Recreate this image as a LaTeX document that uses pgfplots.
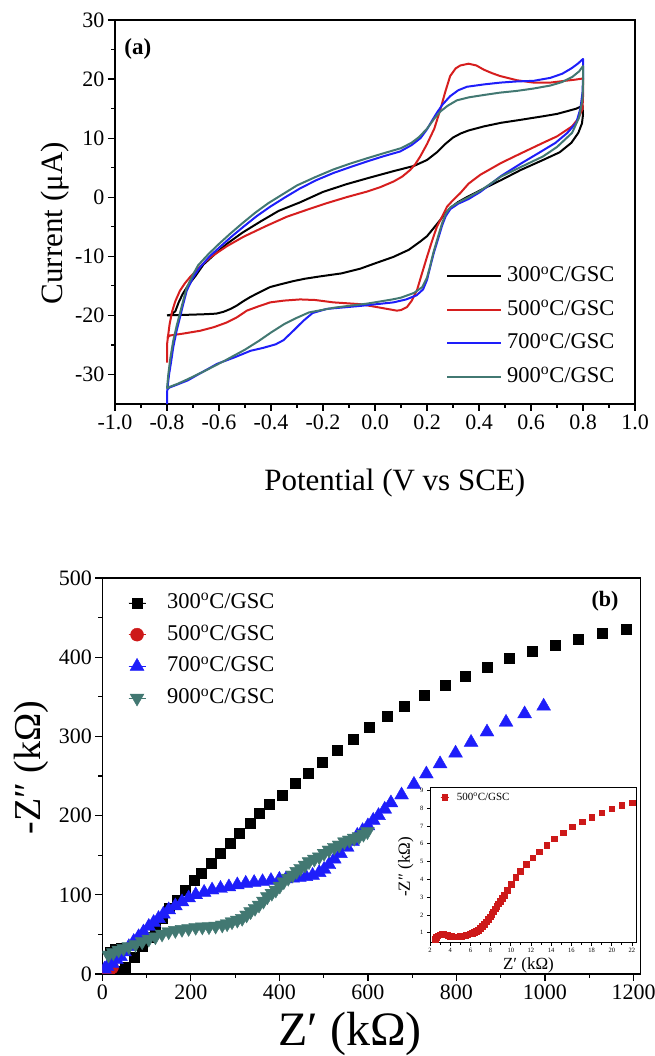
\documentclass[border=0pt]{standalone}
\usepackage{fontspec}
\setmainfont{Liberation Serif}
\usepackage{pgfplots}
\pgfplotsset{compat=1.18}
\definecolor{cvred}{RGB}{214,30,30}
\definecolor{cvblue}{RGB}{30,30,250}
\definecolor{cvteal}{RGB}{66,120,114}
\definecolor{eisred}{RGB}{205,25,25}
\newcommand{\lab}[1]{#1\textsuperscript{o}C/GSC}
\begin{document}
\begin{tikzpicture}[x=1pt,y=1pt]
\useasboundingbox (0pt,0pt) rectangle (654pt,1056pt);
% ---------------- (a) CV ----------------
\begin{axis}[
  at={(115pt,652pt)}, anchor=south west, scale only axis,
  width=520pt, height=384pt,
  xmin=-1, xmax=1, ymin=-35, ymax=30,
  xtick={-1,-0.8,-0.6,-0.4,-0.2,0,0.2,0.4,0.6,0.8,1},
  ytick={-30,-20,-10,0,10,20,30},
  minor x tick num=1, minor y tick num=1,
  tick pos=left, tick align=outside,
  major tick length=7pt, minor tick length=4pt,
  every tick/.style={black, line width=1.2pt},
  axis line style={line width=1.3pt},
  tick label style={font=\fontsize{22}{24}\selectfont},
  /pgf/number format/assume math mode=true,
  x tick label style={/pgf/number format/fixed, /pgf/number format/fixed zerofill, /pgf/number format/precision=1},
  xlabel={Potential (V vs SCE)},
  xlabel style={at={(axis description cs:0.538,-0.206)}, anchor=center, font=\fontsize{31}{33}\selectfont},
  ylabel={Current (μA)},
  ylabel style={at={(axis description cs:-0.116,0.471)}, anchor=center, font=\fontsize{31}{33}\selectfont},
  every axis plot/.append style={line width=2pt, line join=round, no marks},
  legend style={at={(axis description cs:0.6365,0.360)}, anchor=north west, draw=none, fill=none, inner sep=0pt,
     column sep=5pt, row sep=12.5pt, font=\fontsize{22.5}{24}\selectfont,
     nodes={inner sep=0pt, text height=16pt, text depth=5pt}},
  legend cell align=left,
  legend image code/.code={\draw[#1] (0pt,0pt) -- (54pt,0pt);},
]
\addplot[black] coordinates {
(-0.8,-20.0) (-0.785,-19.9) (-0.768,-19.3) (-0.755,-17.8) (-0.74,-16.4) (-0.72,-15.0) (-0.69,-13.3) (-0.66,-11.4) (-0.62,-9.8) (-0.57,-7.9) (-0.51,-6.0) (-0.44,-4.1) (-0.37,-2.3) (-0.29,-0.9) (-0.2,0.9) (-0.11,2.2) (-0.03,3.2) (0.07,4.4) (0.15,5.3) (0.2,6.3) (0.238,7.6) (0.27,9.0) (0.3,10.1) (0.33,10.8) (0.36,11.3) (0.42,12.0) (0.485,12.6) (0.56,13.1) (0.646,13.7) (0.7,14.1) (0.742,14.6) (0.775,15.0) (0.798,15.5)
(0.8,14.0) (0.796,12.5) (0.782,10.9) (0.755,9.2) (0.71,7.6) (0.646,6.3) (0.56,4.6) (0.485,2.9) (0.42,1.5) (0.357,0.1) (0.32,-0.8) (0.29,-1.8) (0.265,-3.0) (0.25,-3.9) (0.228,-5.1) (0.2,-6.6) (0.174,-7.5) (0.13,-8.9) (0.071,-10.1) (0.0,-11.2) (-0.057,-12.1) (-0.13,-12.9) (-0.211,-13.4) (-0.27,-13.8) (-0.314,-14.2) (-0.36,-14.7) (-0.403,-15.2) (-0.44,-16.0) (-0.48,-16.9) (-0.51,-17.7) (-0.53,-18.3) (-0.555,-18.9) (-0.583,-19.4) (-0.61,-19.7) (-0.65,-19.8) (-0.72,-19.9) (-0.8,-20.0)
};
\addlegendentry{\lab{300}}
\addplot[cvred] coordinates {
(-0.8,-28.0) (-0.8,-25.0) (-0.796,-23.5) (-0.79,-21.5) (-0.78,-19.3) (-0.768,-17.6) (-0.75,-15.8) (-0.73,-14.5) (-0.711,-13.5) (-0.672,-11.7) (-0.634,-10.2) (-0.57,-8.3) (-0.506,-6.7) (-0.42,-4.9) (-0.339,-3.3) (-0.26,-2.1) (-0.185,-1.0) (-0.11,0.0) (-0.031,0.95) (0.02,1.7) (0.071,2.65) (0.105,3.5) (0.135,4.6) (0.155,5.6) (0.174,6.9) (0.2,9.0) (0.228,11.6) (0.251,14.8) (0.27,17.8) (0.289,20.5) (0.31,21.8) (0.328,22.3) (0.36,22.6) (0.39,22.3) (0.418,21.6) (0.45,21.0) (0.482,20.5) (0.546,19.8) (0.61,19.4) (0.674,19.4) (0.73,19.7) (0.77,19.9) (0.8,20.1)
(0.8,17.0) (0.798,14.9) (0.78,13.2) (0.758,12.0) (0.7,10.3) (0.646,9.2) (0.56,7.4) (0.485,5.8) (0.405,3.8) (0.36,2.3) (0.328,0.7) (0.3,-0.5) (0.277,-1.6) (0.258,-3.3) (0.238,-5.0) (0.218,-7.6) (0.2,-10.1) (0.18,-13.0) (0.161,-15.8) (0.14,-17.6) (0.123,-18.6) (0.1,-19.1) (0.084,-19.2) (0.046,-18.9) (-0.057,-18.1) (-0.16,-17.8) (-0.23,-17.4) (-0.288,-17.3) (-0.35,-17.5) (-0.403,-17.8) (-0.45,-18.5) (-0.493,-19.2) (-0.53,-20.3) (-0.57,-21.2) (-0.62,-22.0) (-0.672,-22.6) (-0.74,-23.1) (-0.788,-23.4) (-0.8,-23.8)
};
\addlegendentry{\lab{500}}
\addplot[cvblue] coordinates {
(-0.8,-35.5) (-0.799,-32.6) (-0.792,-30.0) (-0.784,-27.8) (-0.776,-25.4) (-0.763,-22.6) (-0.75,-20.3) (-0.737,-18.0) (-0.724,-15.8) (-0.7,-13.6) (-0.672,-11.8) (-0.636,-10.0) (-0.596,-8.4) (-0.55,-6.6) (-0.506,-5.0) (-0.455,-3.2) (-0.403,-1.6) (-0.345,0.0) (-0.288,1.5) (-0.225,2.9) (-0.16,4.1) (-0.095,5.1) (-0.031,6.05) (0.03,6.9) (0.097,7.75) (0.14,8.8) (0.175,10.0) (0.2,11.5) (0.22,13.0) (0.238,14.3) (0.26,15.7) (0.289,17.1) (0.32,18.1) (0.354,18.7) (0.42,19.1) (0.482,19.4) (0.546,19.6) (0.61,19.7) (0.674,20.2) (0.72,20.9) (0.755,21.8) (0.78,22.6) (0.8,23.4)
(0.8,20.0) (0.798,17.7) (0.79,15.0) (0.774,12.6) (0.74,10.9) (0.694,9.2) (0.63,7.5) (0.565,5.8) (0.485,3.6) (0.405,0.9) (0.36,-0.3) (0.32,-1.1) (0.29,-2.0) (0.272,-3.2) (0.258,-4.8) (0.243,-7.0) (0.225,-9.6) (0.21,-12.2) (0.2,-14.0) (0.185,-15.6) (0.16,-16.6) (0.12,-17.3) (0.071,-17.8) (-0.057,-18.4) (-0.185,-18.9) (-0.24,-19.6) (-0.275,-20.9) (-0.314,-22.6) (-0.352,-24.2) (-0.382,-24.9) (-0.43,-25.5) (-0.479,-26.0) (-0.54,-27.1) (-0.607,-28.2) (-0.66,-29.5) (-0.72,-31.0) (-0.76,-31.7) (-0.79,-32.2) (-0.8,-32.6)
};
\addlegendentry{\lab{700}}
\addplot[cvteal] coordinates {
(-0.8,-32.4) (-0.795,-30.0) (-0.787,-27.2) (-0.776,-24.3) (-0.763,-21.8) (-0.75,-19.6) (-0.737,-17.4) (-0.724,-15.3) (-0.7,-13.1) (-0.68,-11.5) (-0.64,-9.6) (-0.6,-7.9) (-0.555,-6.1) (-0.51,-4.4) (-0.46,-2.6) (-0.41,-1.0) (-0.355,0.5) (-0.3,2.0) (-0.23,3.4) (-0.16,4.7) (-0.095,5.7) (-0.03,6.6) (0.03,7.4) (0.1,8.3) (0.14,9.2) (0.17,10.2) (0.2,11.6) (0.228,13.3) (0.251,14.5) (0.28,15.5) (0.315,16.4) (0.36,16.9) (0.418,17.3) (0.48,17.7) (0.546,18.0) (0.61,18.4) (0.674,18.9) (0.72,19.5) (0.76,20.4) (0.785,21.3) (0.8,22.2)
(0.8,19.0) (0.798,16.6) (0.785,13.5) (0.758,10.9) (0.7,8.5) (0.646,6.9) (0.565,5.2) (0.485,3.5) (0.405,1.1) (0.36,0.0) (0.32,-0.9) (0.29,-1.7) (0.272,-2.8) (0.258,-4.4) (0.243,-6.6) (0.225,-9.3) (0.21,-12.0) (0.2,-13.6) (0.182,-15.2) (0.15,-16.2) (0.1,-17.0) (0.067,-17.3) (-0.029,-18.0) (-0.157,-18.7) (-0.254,-19.5) (-0.3,-20.4) (-0.35,-21.5) (-0.4,-22.9) (-0.446,-24.3) (-0.5,-25.8) (-0.575,-27.6) (-0.65,-29.3) (-0.72,-30.8) (-0.76,-31.6) (-0.79,-32.1) (-0.8,-32.4)
};
\addlegendentry{\lab{900}}
\node[font=\fontsize{23}{25}\selectfont\bfseries, anchor=center] at (axis description cs:0.044,0.924) {(a)};
\end{axis}
% ---------------- (b) EIS ----------------
\begin{axis}[
  at={(102.3pt,82pt)}, anchor=south west, scale only axis,
  width=538.3pt, height=396pt,
  xmin=0, xmax=1216, ymin=0, ymax=500,
  xtick={0,200,400,600,800,1000,1200},
  ytick={0,100,200,300,400,500},
  minor x tick num=1, minor y tick num=1,
  tick pos=left, tick align=outside,
  major tick length=7pt, minor tick length=4pt,
  every tick/.style={black, line width=1.2pt},
  axis line style={line width=1.3pt},
  tick label style={font=\fontsize{22}{24}\selectfont},
  /pgf/number format/assume math mode=true,
  /pgf/number format/1000 sep={},
  xlabel={Z′ (kΩ)},
  xlabel style={at={(axis description cs:0.46,-0.152)}, anchor=center, font=\fontsize{48}{50}\selectfont},
  ylabel={-Z″ (kΩ)},
  ylabel style={at={(axis description cs:-0.132,0.521)}, anchor=center, font=\fontsize{38}{40}\selectfont},
  clip marker paths=true,
  legend style={at={(axis description cs:0.048,0.964)}, anchor=north west, draw=none, fill=none, inner sep=0pt,
     column sep=21.5pt, row sep=10.7pt, font=\fontsize{22.5}{24}\selectfont,
     nodes={inner sep=0pt, text height=16pt, text depth=5pt}},
  legend cell align=left,
  legend image code/.code={\path (0pt,0pt) -- (17pt,0pt); \draw[#1] plot coordinates {(8.5pt,0pt)};},
]
\addplot[only marks, mark=square*, mark size=5pt, draw=black, fill=black] coordinates {
(18,28) (30,31) (42,32)
(37,3) (52,9.2) (71,21.8) (90,34.5) (105,47) (120,59.7) (135,70.3) (152,83) (169,93.4) (188,106) (207,118.7) (224,127) (245,139.8) (267,152.4) (290,165) (310,177.6) (333,190) (354,203) (378,215) (406,226) (435,240.7) (465,253.8) (496,267.4) (531,282.2) (567,297) (603,311.4) (643,325.4) (682,338.6) (727,352.1) (774,364.8) (820,376.3) (869,387.7) (919,398.3) (970,408) (1022,415.7) (1076,422.9) (1130,430.1) (1183,435.6)
};
\addlegendentry{\lab{300}}
\addplot[only marks, mark=*, mark size=6.5pt, draw=eisred, fill=eisred] coordinates {
(2.5,0.65) (2.75,0.84) (3.15,0.91) (3.55,0.89) (3.95,0.82) (4.35,0.78) (4.75,0.78) (5.15,0.81) (5.55,0.87) (5.95,0.94) (6.35,1.02) (6.75,1.15) (7.15,1.35) (7.55,1.62) (7.95,1.9) (8.28,2.18) (8.6,2.5) (8.94,2.78) (9.34,3.12) (9.64,3.4) (10.07,3.74) (10.5,4.11) (10.96,4.47) (11.52,4.84) (12.15,5.21) (12.84,5.55) (13.54,5.91) (14.3,6.28) (15.19,6.62) (16.06,6.96) (17.05,7.24) (18.0,7.5) (19.0,7.75) (20.0,7.97) (21.0,8.15) (22.0,8.3)
};
\addlegendentry{\lab{500}}
\addplot[only marks, mark=triangle*, mark size=8pt, draw=cvblue, fill=cvblue] coordinates {
(5,6) (11,9.2) (22,13.5) (32,18) (41,22) (50,28) (60,34.5) (71,41) (82,47) (93,53) (105,60) (116,65) (127,70) (138,75.5) (150,81) (165,86) (180,91) (195,96) (211,100) (230,103) (248,106) (267,108) (286,110) (305,112.5) (324,114.5) (343,115.5) (362,116.5) (381,118) (400,119.5) (415,120) (430,121) (445,122) (460,123) (475,124.5) (490,128) (501,132) (512,138) (524,145) (538,152) (553,160) (565,167) (576,175) (588,181) (600,187) (612,194) (624,200) (638,208) (652,216) (676,226) (704,239.4) (732,252.5) (763,265.3) (798,278.8) (833,292.4) (869,305.5) (912,317.8) (954,328.4) (997,338.1)
};
\addlegendentry{\lab{700}}
\addplot[only marks, mark=triangle*, mark size=8pt, mark options={rotate=180}, draw=cvteal, fill=cvteal] coordinates {
(14,24) (25,27) (37,30.3) (48,32.5) (60,34.5) (75,37.5) (90,40.8) (105,44) (120,47) (135,50.5) (150,53.4) (165,55) (180,56.4) (195,57.5) (211,59) (226,59.5) (241,59.7) (256,60.5) (271,61.9) (282,63.5) (293,66) (305,68) (316,70.3) (326,74.5) (335,78.7) (345,83) (354,87.1) (364,92) (373,97.6) (383,102) (392,106) (401,111) (410,116.5) (420,121) (430,125) (439,129.5) (448,133.5) (458,137.5) (467,141.8) (479,145) (490,148) (501,152.5) (512,156.6) (524,160) (535,162.9) (547,167) (558,169.2) (569,171.5) (580,173.4) (590,176.5) (599,179.7)
};
\addlegendentry{\lab{900}}
\node[font=\fontsize{22}{24}\selectfont\bfseries, anchor=center] at (axis description cs:0.934,0.942) {(b)};
\end{axis}
% ---------------- inset ----------------
\begin{axis}[
  at={(430pt,113.3pt)}, anchor=south west, scale only axis,
  width=206pt, height=154.7pt,
  xmin=2, xmax=22.4, ymin=0.44, ymax=9.13,
  xtick={2,4,6,8,10,12,14,16,18,20,22},
  ytick={1,2,3,4,5,6,7,8,9},
  minor x tick num=1,
  tick pos=left, tick align=outside,
  major tick length=3pt, minor tick length=2pt,
  every tick/.style={black, line width=0.8pt},
  axis line style={line width=1pt},
  axis background/.style={fill=white},
  tick label style={font=\fontsize{6.5}{7}\selectfont},
  xticklabel style={yshift=1pt},
  /pgf/number format/assume math mode=true,
  xlabel={Z′ (kΩ)},
  xlabel style={at={(axis description cs:0.478,-0.147)}, anchor=center, font=\fontsize{17}{18}\selectfont},
  ylabel={-Z″ (kΩ)},
  ylabel style={at={(axis description cs:-0.117,0.49)}, anchor=center, font=\fontsize{17}{18}\selectfont},
  legend style={at={(axis description cs:0.05,0.97)}, anchor=north west, draw=none, fill=none, inner sep=0pt,
     column sep=8pt, font=\fontsize{11}{12}\selectfont, nodes={inner sep=0pt}},
  legend cell align=left,
  legend image code/.code={\path (0pt,0pt) -- (8pt,0pt); \draw[#1] plot coordinates {(4pt,0pt)};},
]
\addplot[only marks, mark=square*, mark size=2.8pt, draw=eisred, fill=eisred] coordinates {
(2.5,0.65) (2.6,0.75) (2.75,0.84) (2.95,0.89) (3.15,0.91) (3.35,0.91) (3.55,0.89) (3.75,0.85) (3.95,0.82) (4.15,0.79) (4.35,0.78) (4.55,0.77) (4.75,0.78) (4.95,0.79) (5.15,0.81) (5.35,0.84) (5.55,0.87) (5.75,0.9) (5.95,0.94) (6.15,0.98) (6.35,1.02) (6.55,1.08) (6.75,1.15) (6.95,1.24) (7.15,1.35) (7.35,1.48) (7.55,1.62) (7.75,1.76) (7.95,1.9) (8.12,2.04) (8.28,2.18) (8.44,2.34) (8.6,2.5) (8.77,2.64) (8.94,2.78) (9.14,2.95) (9.34,3.12) (9.64,3.4) (10.07,3.74) (10.5,4.11) (10.96,4.47) (11.52,4.84) (12.15,5.21) (12.84,5.55) (13.54,5.91) (14.3,6.28) (15.19,6.62) (16.06,6.96) (17.05,7.24) (18.0,7.5) (19.0,7.75) (20.0,7.97) (21.0,8.15) (22.0,8.3)
};
\addlegendentry{\lab{500}}
\end{axis}
\end{tikzpicture}
\end{document}
